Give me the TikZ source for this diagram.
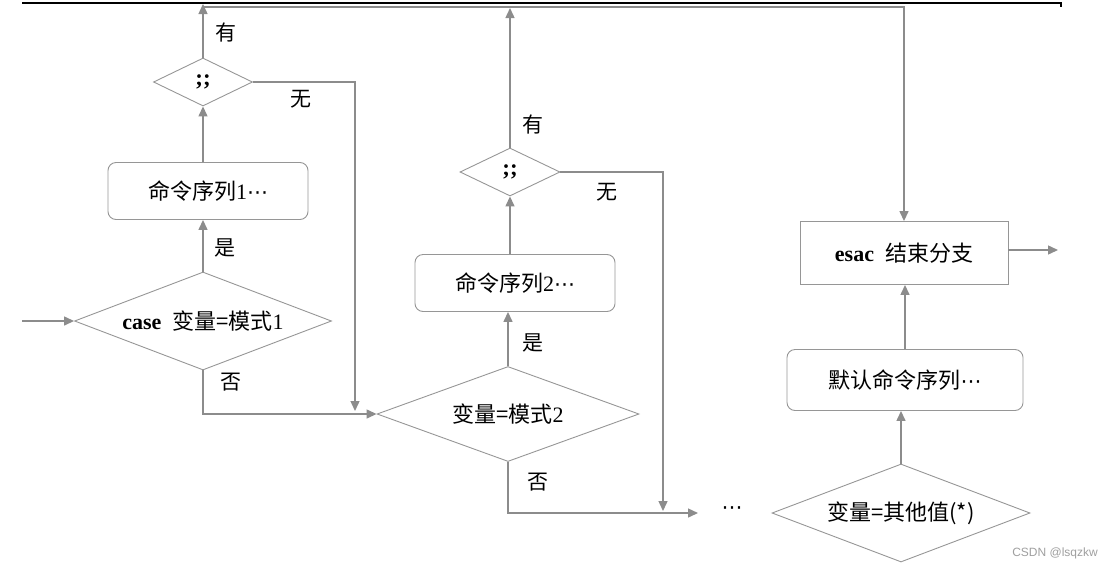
\documentclass[tikz,border=0pt]{standalone}
\usepackage{fontspec}
\setmainfont{Liberation Serif}
\newfontfamily\cjk{Noto Sans CJK SC}
\newfontfamily\symf{DejaVu Sans}
\newfontfamily\wmfont{Liberation Sans}
\usetikzlibrary{shapes.geometric,arrows.meta}
\definecolor{linegray}{RGB}{140,140,140}
\definecolor{boxgray}{RGB}{150,150,150}
\newcommand{\mdots}{{\symf\fontsize{21}{24}\selectfont ⋯}}

\begin{document}
\begin{tikzpicture}[x=1pt,y=-1pt,
  line/.style={draw=linegray,line width=1.4pt},
  arr/.style={line,-{Triangle[length=10pt,width=9pt]}},
  dia/.style={diamond,draw=boxgray,line width=0.9pt,inner sep=0pt,aspect=2.6},
  cmdbox/.style={rectangle,rounded corners=8pt,draw=boxgray,line width=0.9pt,minimum width=200pt,minimum height=57pt},
  txt/.style={font=\fontsize{22}{26}\selectfont},
  lbl/.style={font=\cjk\fontsize{21}{25}\selectfont}]
\useasboundingbox (0,0) rectangle (1116,571);
\draw[line width=1.5pt] (22,3) -- (1061,3) -- (1061,7);
% nodes
\node[dia,minimum width=99pt,minimum height=48pt] (semi1) at (203,82) {\textbf{\fontsize{23}{24}\selectfont ;;}};
\node[cmdbox,txt] (cmd1) at (208,191) {{\cjk 命令序列}1\mdots};
\node[dia,txt,minimum width=257pt,minimum height=98pt] (case1) at (203,321) {\textbf{case}\ \ {\cjk 变量=模式}1};
\node[dia,txt,minimum width=262pt,minimum height=95pt] (case2) at (508,414) {{\cjk 变量=模式}2};
\node[cmdbox,txt] (cmd2) at (515,283) {{\cjk 命令序列}2\mdots};
\node[dia,minimum width=100pt,minimum height=48pt] (semi2) at (510,172) {\textbf{\fontsize{23}{24}\selectfont ;;}};
\node (dots) at (732,511) {\mdots};
\node[dia,lbl,font=\cjk\fontsize{22}{26}\selectfont,minimum width=258pt,minimum height=98pt] (other) at (901,513) {变量=其他值(*)};
\node[cmdbox,lbl,font=\cjk\fontsize{22}{26}\selectfont,minimum width=236pt,minimum height=61pt] (dflt) at (905,380) {默认命令序列\mdots};
\node[rectangle,draw=boxgray,line width=0.9pt,minimum width=208pt,minimum height=63pt,txt] (esac) at (904,253) {\textbf{esac}\ \ {\cjk 结束分支}};
% labels
\node[lbl] (yes1) at (225,248) {是};
\node[lbl] (no1) at (231,382) {否};
\node[lbl] (has1) at (226,33) {有};
\node[lbl] (none1) at (301,99) {无};
\node[lbl] (yes2) at (533,343) {是};
\node[lbl] (no2) at (538,482) {否};
\node[lbl] (has2) at (533,125) {有};
\node[lbl] (none2) at (607,192) {无};
\node[font=\wmfont\fontsize{12}{14}\selectfont,text=gray!75] (mark) at (1055,553) {CSDN @lsqzkw};
% joints
\coordinate (in) at (22,321);
\coordinate (tip1) at (203,4);
\coordinate (j1) at (203,7);
\coordinate (jr) at (904,7);
\coordinate (m1) at (355,411);
\coordinate (m2) at (663,511);
\coordinate (e2) at (698,513);
\coordinate (out) at (1058,250);
% connectors
\draw[arr] (in) -- (case1.west);
\draw[arr] (case1.north) -- (case1.north |- cmd1.south);
\draw[arr] (cmd1.north -| semi1.south) -- (semi1.south);
\draw[arr] (semi1.north) -- (tip1);
\draw[arr] (j1) -- (jr) -- (esac.north);
\draw[arr] (semi1.east) -| (m1);
\draw[arr] (case1.south) |- (case2.west);
\draw[arr] (case2.north) -- (case2.north |- cmd2.south);
\draw[arr] (cmd2.north -| semi2.south) -- (semi2.south);
\draw[arr] (semi2.north) -- (semi2.north |- 0,8);
\draw[arr] (semi2.east) -| (m2);
\draw[arr] (case2.south) |- (e2);
\draw[arr] (other.north) -- (other.north |- dflt.south);
\draw[arr] (dflt.north) -- (dflt.north |- esac.south);
\draw[arr] (esac.east |- out) -- (out);
\end{tikzpicture}
\end{document}
